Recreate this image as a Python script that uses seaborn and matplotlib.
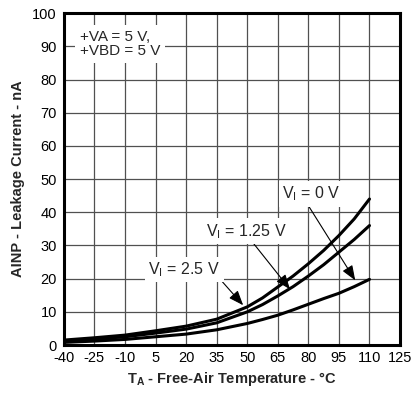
import pandas as pd
import matplotlib
matplotlib.use('Agg')
import matplotlib.pyplot as plt
import seaborn as sns

# Температурные точки и токи утечки для трёх значений V_I
temps = [-40, -25, -10, 5, 20, 35, 50, 57.5, 65, 72.5, 80, 87.5, 95, 102.5, 110]
leak_25 = [1.5, 2.2, 3.0, 4.3, 5.7, 7.8, 11.5, 14.2, 17.5, 20.8, 24.5, 28.5, 33.0, 38.0, 44.0]
leak_125 = [1.2, 1.8, 2.5, 3.6, 4.8, 6.7, 10.0, 12.2, 14.8, 17.6, 20.8, 24.2, 28.0, 31.8, 36.0]
leak_0 = [0.8, 1.2, 1.7, 2.5, 3.3, 4.6, 6.5, 7.7, 9.0, 10.6, 12.3, 14.0, 15.6, 17.6, 19.8]
series_names = ['V_I = 2.5 V', 'V_I = 1.25 V', 'V_I = 0 V']
x_ticks = [-40, -25, -10, 5, 20, 35, 50, 65, 80, 95, 110, 125]
y_ticks = [0, 10, 20, 30, 40, 50, 60, 70, 80, 90, 100]

df = pd.DataFrame({
    'temp': temps * 3,
    'leak': leak_25 + leak_125 + leak_0,
    'series': [series_names[0]] * len(temps) + [series_names[1]] * len(temps) + [series_names[2]] * len(temps),
})

sns.set_style('white')
plt.rcParams['font.family'] = ['Liberation Sans', 'DejaVu Sans']
plt.rcParams['axes.unicode_minus'] = False
plt.rcParams['mathtext.fontset'] = 'custom'
plt.rcParams['mathtext.rm'] = 'Liberation Sans'
plt.rcParams['mathtext.bf'] = 'Liberation Sans:bold'

fig = plt.figure(figsize=(4.12, 3.98), dpi=100)
ax = fig.add_axes([0.155, 0.133, 0.816, 0.834])

sns.lineplot(data=df, x='temp', y='leak', hue='series', palette=['black'] * 3,
             linewidth=2.2, legend=False, ax=ax, zorder=3)

ax.set_xlim(-40, 125)
ax.set_ylim(0, 100)
ax.set_xticks(x_ticks)
ax.set_yticks(y_ticks)
ax.grid(True, color='#505050', linewidth=0.9)
ax.set_axisbelow(True)
ax.tick_params(length=0, labelsize=10.5, colors='black')
ax.tick_params(axis='x', pad=4)
ax.tick_params(axis='y', pad=5)
for s in ax.spines.values():
    s.set_linewidth(2.2)
    s.set_color('black')

ax.set_xlabel(r'$\mathbf{T_A}$ - Free-Air Temperature - °C', fontsize=10.5, fontweight='bold', labelpad=4)
ax.set_ylabel('AINP - Leakage Current - nA', fontsize=10.5, fontweight='bold', labelpad=5)

box = dict(facecolor='white', edgecolor='none', pad=2.5)
ax.text(-32, 95, '+VA = 5 V,\n+VBD = 5 V', fontsize=11, va='top', ha='left',
        bbox=dict(facecolor='white', edgecolor='none', pad=3.5), linespacing=1.05, zorder=2)

arrow = dict(arrowstyle='-|>,head_length=0.9,head_width=0.35', color='black', lw=0.8,
             shrinkA=0, shrinkB=0)
labels = [(r'V$_\mathrm{I}$ = 0 V', (81.5, 45.5), (80, 42), (103, 19.5)),
          (r'V$_\mathrm{I}$ = 1.25 V', (49.5, 34.3), (50, 33), (71, 16.8)),
          (r'V$_\mathrm{I}$ = 2.5 V', (19, 22.8), (35, 21), (48, 12))]
for txt, pos, start, end in labels:
    ax.annotate('', xy=end, xytext=start, arrowprops=arrow, zorder=4)
    ax.text(pos[0], pos[1], txt, fontsize=11.5, ha='center', va='center',
            bbox=box, zorder=5)

plt.savefig('out.png', dpi=100)
plt.close()
